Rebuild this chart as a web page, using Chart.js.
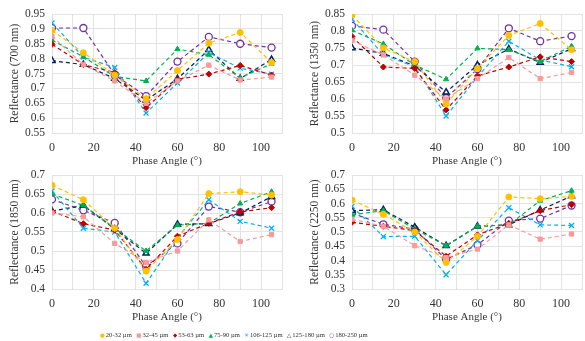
<!DOCTYPE html>
<html lang="en">
<head>
  <meta charset="UTF-8" />
  <title>Reflectance vs Phase Angle</title>
  <script src="https://cdn.jsdelivr.net/npm/chart.js"></script>
  <style>
    html, body { margin: 0; padding: 0; background: #fff; overflow: hidden; width: 585px; height: 341px; }
    .panel { position: absolute; }
    #legend {
      position: absolute; top: 330px; left: 100px;
      font-family: "Liberation Serif", serif; font-size: 6.6px; color: #333;
      white-space: nowrap; line-height: 9px;
    }
    #legend span.item { margin-right: 4.5px; }
    #legend span.mk { font-family: "DejaVu Sans", sans-serif; font-size: 5.5px; margin-right: 1px; }
  </style>
</head>
<body>

  <canvas id="c700" class="panel" style="left:0;top:0" width="290" height="168"></canvas>
  <canvas id="c1350" class="panel" style="left:300px;top:0" width="290" height="168"></canvas>
  <canvas id="c1850" class="panel" style="left:0;top:160px" width="290" height="164"></canvas>
  <canvas id="c2250" class="panel" style="left:300px;top:160px" width="290" height="164"></canvas>
  <div id="legend"></div>

  <script>
    const angles = [0, 15, 30, 45, 60, 75, 90, 105];
    const sizes = ["20-32 µm", "32-45 µm", "53-63 µm", "75-90 µm", "106-125 µm", "125-180 µm", "180-250 µm"];

    // reflectance per size fraction, in the order of `sizes`
    const r700 = [
      [0.895, 0.82, 0.745, 0.665, 0.76, 0.852, 0.888, 0.787],
      [0.875, 0.78, 0.725, 0.65, 0.725, 0.778, 0.728, 0.738],
      [0.848, 0.78, 0.753, 0.635, 0.73, 0.748, 0.777, 0.745],
      [0.862, 0.806, 0.74, 0.725, 0.832, 0.813, 0.735, 0.783],
      [0.92, 0.805, 0.77, 0.617, 0.718, 0.82, 0.768, 0.748],
      [0.793, 0.78, 0.733, 0.66, 0.732, 0.83, 0.733, 0.797],
      [0.903, 0.903, 0.745, 0.674, 0.79, 0.873, 0.85, 0.837]
    ];
    const r1350 = [
      [0.847, 0.75, 0.71, 0.585, 0.69, 0.787, 0.822, 0.745],
      [0.772, 0.73, 0.67, 0.6, 0.66, 0.722, 0.66, 0.678],
      [0.784, 0.694, 0.69, 0.568, 0.668, 0.694, 0.724, 0.71],
      [0.802, 0.762, 0.7, 0.658, 0.749, 0.745, 0.71, 0.755],
      [0.835, 0.73, 0.695, 0.55, 0.665, 0.77, 0.715, 0.695],
      [0.75, 0.734, 0.697, 0.62, 0.7, 0.747, 0.707, 0.748],
      [0.815, 0.804, 0.71, 0.603, 0.688, 0.808, 0.77, 0.785]
    ];
    const r1850 = [
      [0.673, 0.635, 0.56, 0.447, 0.53, 0.651, 0.656, 0.647],
      [0.6, 0.59, 0.52, 0.47, 0.5, 0.582, 0.525, 0.543],
      [0.605, 0.572, 0.555, 0.452, 0.539, 0.573, 0.603, 0.614],
      [0.65, 0.62, 0.56, 0.5, 0.568, 0.573, 0.625, 0.656],
      [0.658, 0.56, 0.55, 0.415, 0.535, 0.635, 0.578, 0.56],
      [0.605, 0.62, 0.558, 0.494, 0.57, 0.572, 0.6, 0.643],
      [0.636, 0.607, 0.574, 0.46, 0.52, 0.617, 0.602, 0.63]
    ];
    const r2250 = [
      [0.612, 0.562, 0.5, 0.393, 0.485, 0.623, 0.617, 0.625],
      [0.545, 0.52, 0.452, 0.41, 0.44, 0.525, 0.475, 0.493],
      [0.534, 0.52, 0.505, 0.415, 0.49, 0.53, 0.575, 0.596],
      [0.56, 0.575, 0.51, 0.452, 0.52, 0.525, 0.61, 0.645],
      [0.59, 0.484, 0.485, 0.35, 0.47, 0.585, 0.525, 0.523],
      [0.575, 0.578, 0.517, 0.452, 0.52, 0.525, 0.577, 0.626],
      [0.566, 0.527, 0.51, 0.404, 0.455, 0.54, 0.547, 0.593]
    ];

    const colors = ["#FFC000", "#F79A9A", "#C00000", "#00B050", "#00B0F0", "#002060", "#7030A0"];
    const fills = ["#FFC000", "#F79A9A", "#C00000", "#00B050", "#00B0F0", "#ffffff", "#ffffff"];
    const styles = ["circle", "rect", "rectRot", "triangle", "crossRot", "triangle", "circle"];
    const radii = [3, 3, 3, 3, 3.5, 3.5, 3.5];
    const borders = [1, 1, 1, 1, 1.3, 1.5, 1.3];
    const legendMarks = ["●", "■", "◆", "▲", "✕", "△", "○"];

    const serif = "'Liberation Serif', 'Times New Roman', serif";
    const textColor = "#333";
    const gridColor = "#e3e3e3";

    function makeChart(id, values, yTitle, yMin, yMax, padTop) {
      const datasets = values.map((vals, i) => ({
        label: sizes[i],
        data: vals.map((v, j) => ({ x: angles[j], y: v })),
        borderColor: colors[i],
        backgroundColor: fills[i],
        pointBackgroundColor: fills[i],
        pointBorderColor: colors[i],
        pointStyle: styles[i],
        pointRadius: radii[i],
        pointBorderWidth: borders[i],
        borderWidth: 1.2,
        borderDash: [4, 3],
        fill: false,
        tension: 0
      }));
      return new Chart(document.getElementById(id), {
        type: "line",
        data: { datasets },
        options: {
          responsive: false,
          animation: false,
          layout: { padding: { left: 8, right: 4, top: padTop, bottom: 0 } },
          plugins: { legend: { display: false }, tooltip: { enabled: false } },
          scales: {
            x: {
              type: "linear",
              min: 0, max: 110,
              grid: { color: gridColor, drawTicks: false },
              border: { color: gridColor },
              ticks: {
                stepSize: 10,
                padding: 8,
                autoSkip: false,
                maxRotation: 0,
                minRotation: 0,
                color: textColor,
                font: { family: serif, size: 12 },
                callback: v => (v % 20 === 0 ? v : "")
              },
              title: { display: true, text: "Phase Angle (°)", color: textColor, font: { family: serif, size: 11 }, padding: 0 },
              afterFit: s => { s.height = 35; }
            },
            y: {
              min: yMin, max: yMax,
              grid: { color: gridColor, drawTicks: false },
              border: { color: gridColor },
              ticks: {
                stepSize: 0.05,
                padding: 7,
                autoSkip: false,
                color: textColor,
                font: { family: serif, size: 11.5 },
                callback: v => String(+v.toFixed(2))
              },
              title: { display: true, text: yTitle, color: textColor, font: { family: serif, size: 11.5 }, padding: 0 },
              afterFit: s => { s.width = 44; }
            }
          }
        }
      });
    }

    makeChart("c700", r700, "Reflectance (700 nm)", 0.55, 0.95, 14);
    makeChart("c1350", r1350, "Reflectance (1350 nm)", 0.5, 0.85, 14);
    makeChart("c1850", r1850, "Reflectance (1850 nm)", 0.4, 0.7, 15);
    makeChart("c2250", r2250, "Reflectance (2250 nm)", 0.3, 0.7, 15);

    const legend = document.getElementById("legend");
    legend.innerHTML = sizes.map((s, i) =>
      `<span class="item"><span class="mk" style="color:${colors[i]}">${legendMarks[i]}</span>${s}</span>`
    ).join("");
  </script>
</body>
</html>
